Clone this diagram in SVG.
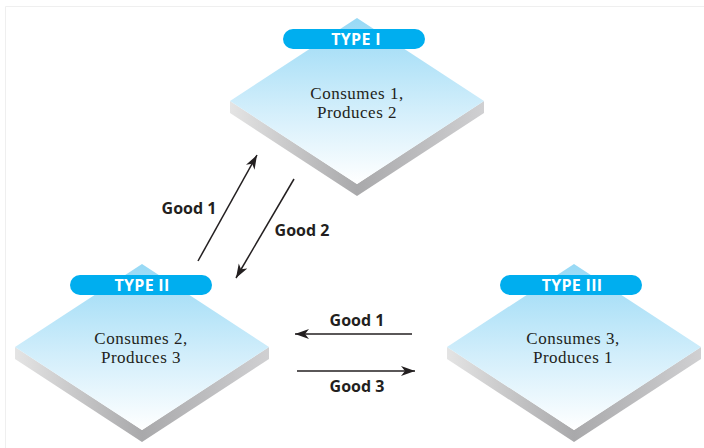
<svg xmlns="http://www.w3.org/2000/svg" xmlns:xlink="http://www.w3.org/1999/xlink" width="704" height="448" viewBox="0 0 704 448">
  <style>
    .pill { fill: #00aeef; }
    .pilltxt { font-family: "Open Sans", "Liberation Sans", sans-serif; font-weight: 700; font-size: 16px; letter-spacing: 0.3px; fill: #ffffff; text-anchor: middle; }
    .body { font-family: "Liberation Serif", "DejaVu Serif", serif; font-size: 17px; letter-spacing: 0.5px; fill: #231f20; text-anchor: middle; }
    .lbl { font-family: "Open Sans", "Liberation Sans", sans-serif; font-weight: 700; font-size: 16px; fill: #231f20; text-anchor: middle; }
    .conn { stroke: #231f20; stroke-width: 1.5; fill: none; marker-end: url(#arr); }
  </style>
  <defs>
    <linearGradient id="topg" x1="0" y1="0" x2="0" y2="1">
      <stop offset="0" stop-color="#97d9f5"/>
      <stop offset="0.55" stop-color="#d2eefb"/>
      <stop offset="1" stop-color="#ffffff"/>
    </linearGradient>
    <linearGradient id="leftg" x1="0" y1="0" x2="1" y2="0">
      <stop offset="0" stop-color="#e4e4e4"/>
      <stop offset="1" stop-color="#a9a9ab"/>
    </linearGradient>
    <linearGradient id="rightg" x1="0" y1="0" x2="1" y2="0">
      <stop offset="0" stop-color="#a9a9ab"/>
      <stop offset="1" stop-color="#d0d0d2"/>
    </linearGradient>
    <marker id="arr" markerUnits="userSpaceOnUse" markerWidth="16" markerHeight="12" refX="14" refY="5" orient="auto">
      <path d="M0,0 L14,5 L0,10 L4,5 z" fill="#231f20"/>
    </marker>
    <g id="tile">
      <polygon points="-127,0 0,83 0,95 -127,12" fill="url(#leftg)"/>
      <polygon points="0,83 127,0 127,12 0,95" fill="url(#rightg)"/>
      <polygon points="0,-83 127,0 0,83 -127,0" fill="url(#topg)"/>
    </g>
  </defs>

  <rect width="704" height="448" fill="#ffffff"/>
  <path d="M5.5,448 V6.5 H704" fill="none" stroke="#efefef" stroke-width="1"/>

  <g id="type1">
    <use xlink:href="#tile" href="#tile" x="357" y="101"/>
    <rect class="pill" x="283" y="29" width="142" height="20" rx="10"/>
    <text class="pilltxt" x="356" y="45">TYPE I</text>
    <text class="body" x="357" y="99">Consumes 1,</text>
    <text class="body" x="357" y="118">Produces 2</text>
  </g>

  <g id="type2">
    <use xlink:href="#tile" href="#tile" x="142" y="347"/>
    <rect class="pill" x="70" y="275" width="142" height="20" rx="10"/>
    <text class="pilltxt" x="142" y="291">TYPE II</text>
    <text class="body" x="141" y="344">Consumes 2,</text>
    <text class="body" x="141" y="363">Produces 3</text>
  </g>

  <g id="type3">
    <use xlink:href="#tile" href="#tile" x="574" y="347"/>
    <rect class="pill" x="500" y="275" width="142" height="20" rx="10"/>
    <text class="pilltxt" x="572" y="291">TYPE III</text>
    <text class="body" x="573" y="344">Consumes 3,</text>
    <text class="body" x="573" y="363">Produces 1</text>
  </g>

  <g id="connectors">
    <line class="conn" x1="198" y1="261" x2="257" y2="155"/>
    <line class="conn" x1="294" y1="179" x2="236" y2="278"/>
    <line class="conn" x1="412" y1="334" x2="295" y2="334"/>
    <line class="conn" x1="297" y1="371" x2="415" y2="371"/>
    <text class="lbl" x="189" y="214">Good 1</text>
    <text class="lbl" x="302" y="236">Good 2</text>
    <text class="lbl" x="357" y="326">Good 1</text>
    <text class="lbl" x="357" y="392">Good 3</text>
  </g>
</svg>
